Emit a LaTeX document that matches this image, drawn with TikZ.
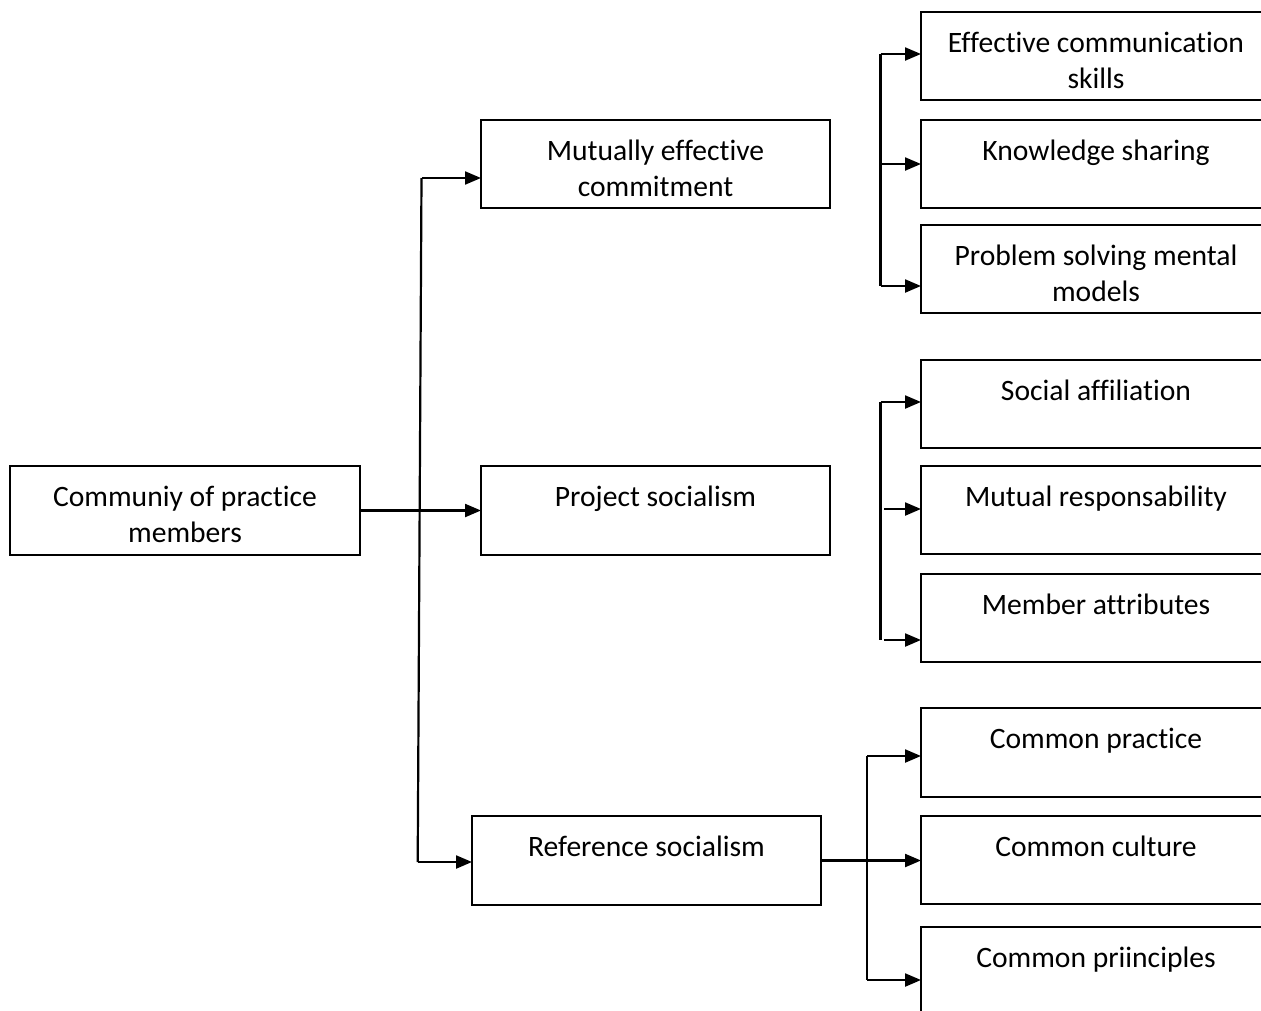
\documentclass[tikz,border=0pt]{standalone}
\usepackage{fontspec}
\setmainfont{Carlito}[Ligatures={NoCommon,TeX}]
\usetikzlibrary{arrows.meta}
\newcommand{\bxt}[3]{\parbox[t][#2pt][t]{#1pt}{\centering\rule{0pt}{40pt}#3}}
\begin{document}
\begin{tikzpicture}[x=1pt,y=-1pt,
  bx/.style={draw, line width=2.2pt, inner sep=0pt, outer sep=0pt, anchor=north west, font=\fontsize{29.6}{36.5}\selectfont},
  ln/.style={line width=2.2pt},
  arr/.style={line width=2.2pt, -{Triangle[length=16pt,width=13pt]}}]
\clip (0,0) rectangle (1261,1010);
\fill[white] (0,0) rectangle (1261,1010);
% root and middle column
\node[bx] (root) at (10,466) {\bxt{350}{89}{Communiy of practice\\members}};
\node[bx] (mid1) at (481,120) {\bxt{349}{88}{Mutually effective\\commitment}};
\node[bx] (mid2) at (481,466) {\bxt{349}{89}{Project socialism}};
\node[bx] (mid3) at (472,816) {\bxt{349}{89}{Reference socialism}};
% right column, group 1
\node[bx] (e1) at (921,12) {\bxt{350}{88}{Effective communication\\skills}};
\node[bx] (e2) at (921,120) {\bxt{350}{88}{Knowledge sharing}};
\node[bx] (e3) at (921,225) {\bxt{350}{88}{Problem solving mental\\models}};
% group 2
\node[bx] (s1) at (921,360) {\bxt{350}{88}{Social affiliation}};
\node[bx] (s2) at (921,466) {\bxt{350}{88}{Mutual responsability}};
\node[bx] (s3) at (921,574) {\bxt{350}{88}{Member attributes}};
% group 3
\node[bx] (c1) at (921,708) {\bxt{350}{89}{Common practice}};
\node[bx] (c2) at (921,816) {\bxt{350}{88}{Common culture}};
\node[bx] (c3) at (921,927) {\bxt{350}{120}{Common priinciples}};
% trunk
\coordinate (tA) at (421.5,178);
\coordinate (tB) at (417.7,862);
\draw[ln] (tA) -- (tB);
\draw[arr] (root.east) -- (mid2.west);
\draw[arr] (tA) -- (tA -| mid1.west);
\draw[arr] (tB) -- (tB -| mid3.west);
% group 1 bracket
\coordinate (g1a) at (880.5,54);
\coordinate (g1m) at (880.5,164);
\coordinate (g1b) at (880.5,286);
\draw[ln] (g1a) -- (g1b);
\draw[arr] (g1a) -- (g1a -| e1.west);
\draw[arr] (g1m) -- (g1m -| e2.west);
\draw[arr] (g1b) -- (g1b -| e3.west);
% group 2 bracket
\coordinate (g2a) at (880.5,402);
\coordinate (g2b) at (880.5,640);
\coordinate (g2m) at (884,509);
\coordinate (g2c) at (884,640);
\draw[ln] (g2a) -- (g2b);
\draw[arr] (g2a) -- (g2a -| s1.west);
\draw[arr] (g2m) -- (g2m -| s2.west);
\draw[arr] (g2c) -- (g2c -| s3.west);
% group 3 bracket
\coordinate (g3a) at (867,756);
\coordinate (g3b) at (867,980);
\draw[ln] (g3a) -- (g3b);
\draw[arr] (g3a) -- (g3a -| c1.west);
\draw[arr] (mid3.east) -- (mid3.east -| c2.west);
\draw[arr] (g3b) -- (g3b -| c3.west);
\end{tikzpicture}
\end{document}
